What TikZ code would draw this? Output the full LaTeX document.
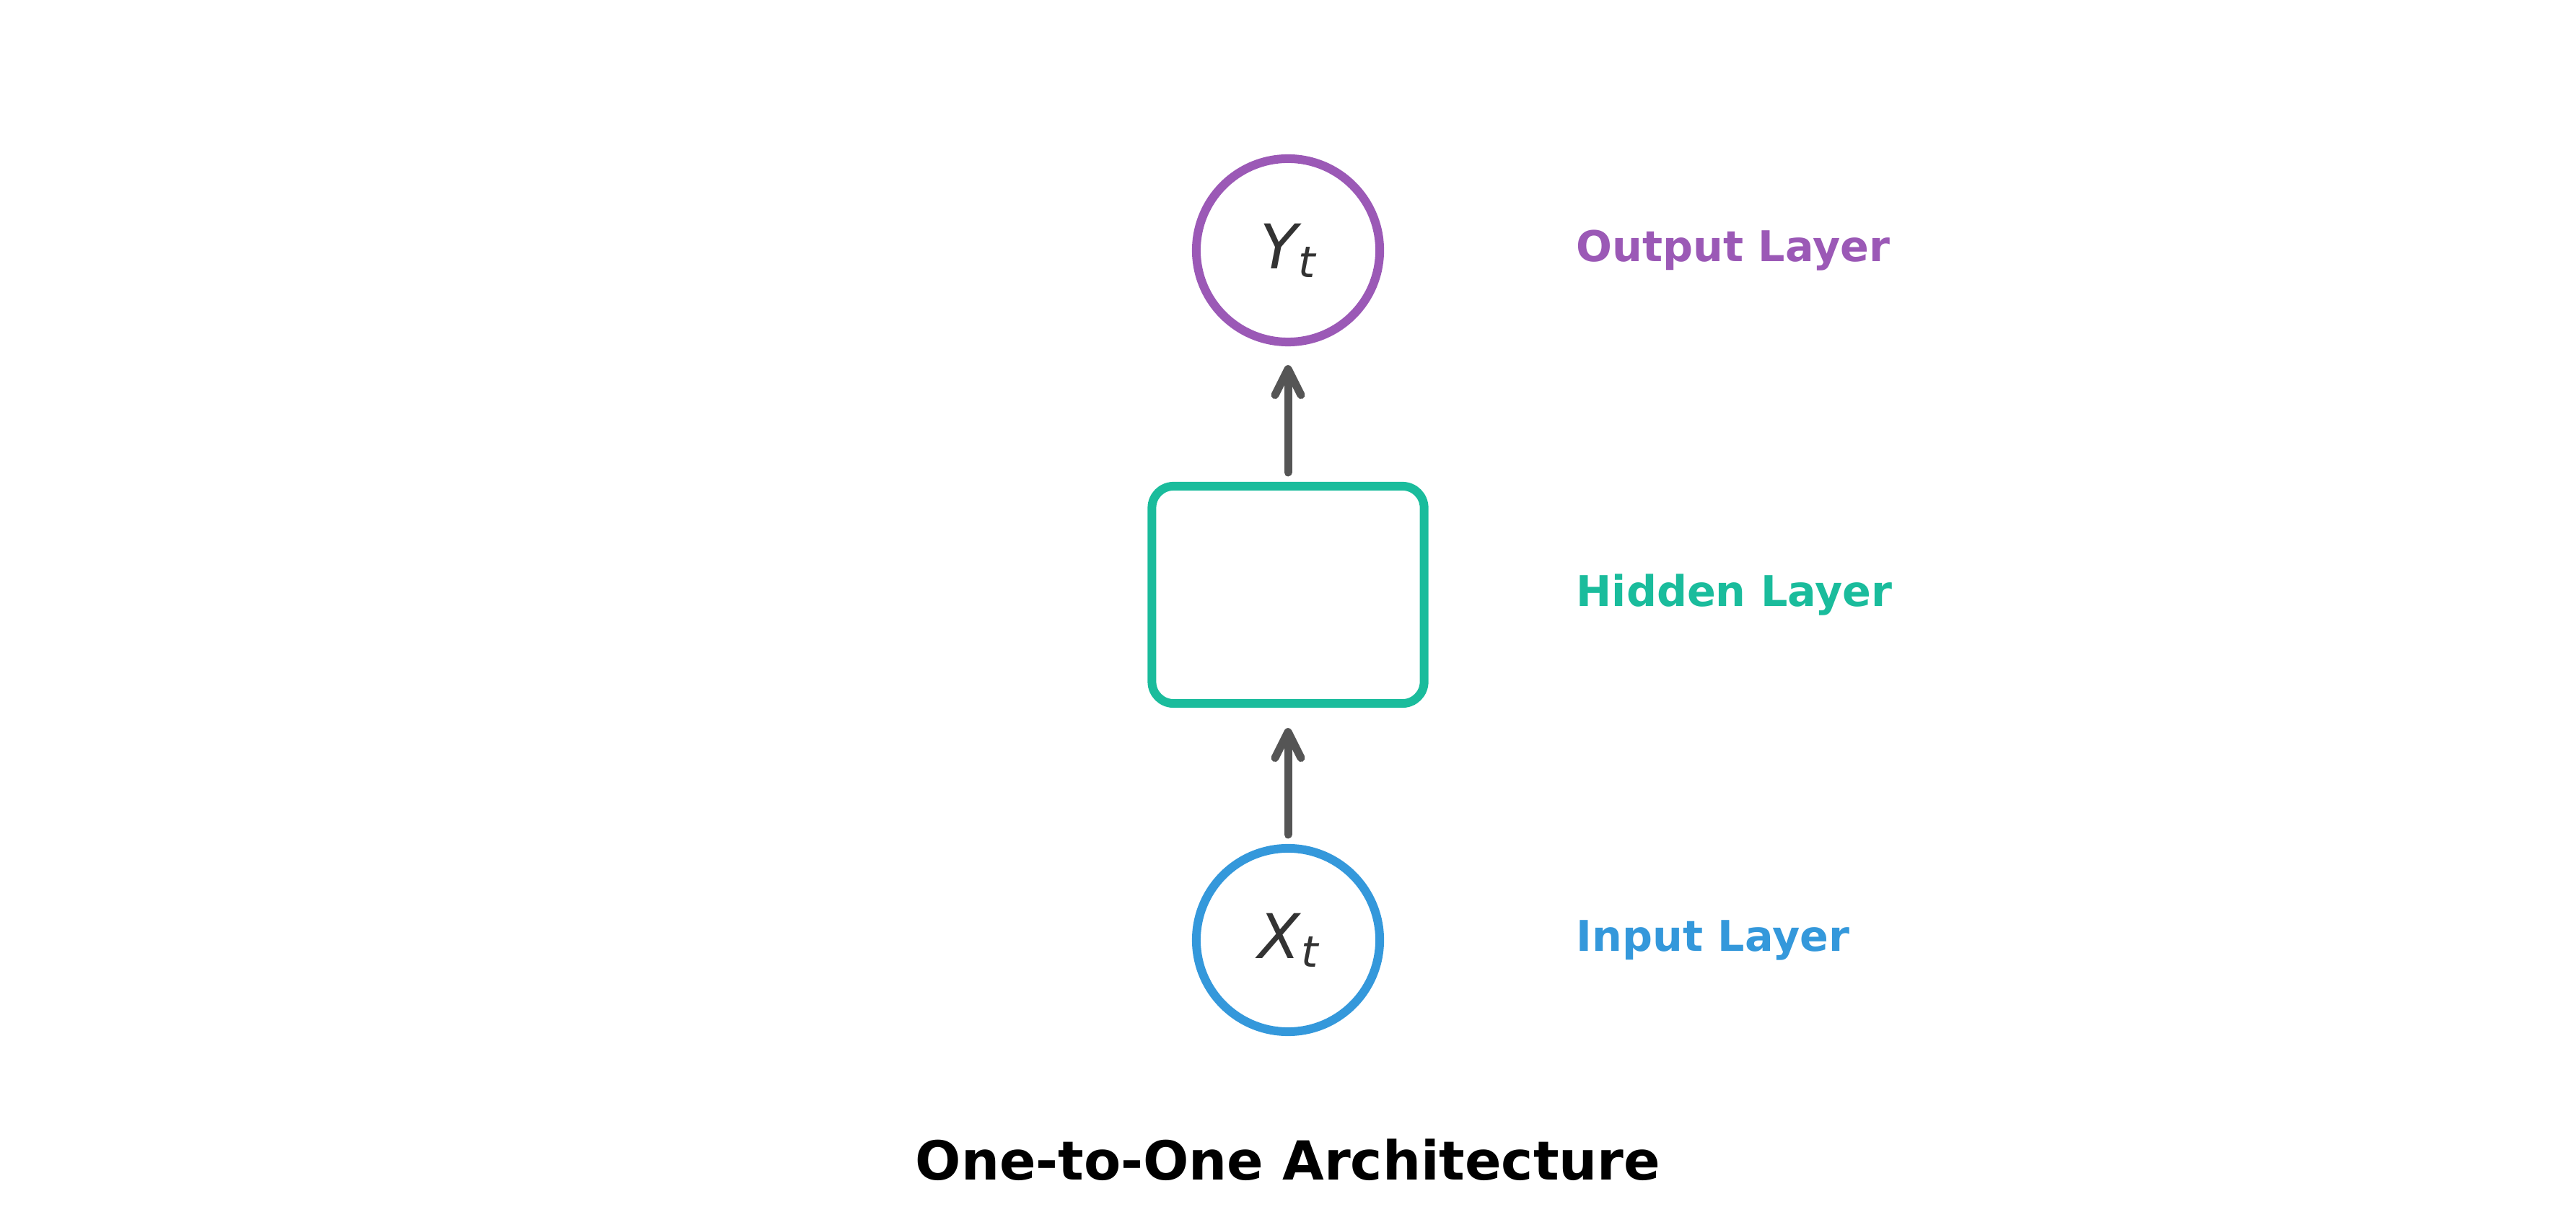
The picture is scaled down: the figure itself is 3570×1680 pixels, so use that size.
\documentclass[tikz,border=0pt]{standalone}
\usepackage{fontspec}
\setmainfont{DejaVu Sans}
\usetikzlibrary{arrows.meta}
\definecolor{outc}{HTML}{9B59B6}
\definecolor{hidc}{HTML}{1ABC9C}
\definecolor{inc}{HTML}{3498DB}
\definecolor{arrc}{HTML}{555555}
\definecolor{symc}{HTML}{333333}
\tikzset{
  layercircle/.style={circle, draw=#1, line width=0.12cm, minimum size=2.54cm, inner sep=0pt, text=symc,
    font=\fontsize{24.3}{26}\selectfont\itshape},
  hiddenbox/.style={rectangle, draw=hidc, line width=0.12cm, rounded corners=0.3cm, minimum width=3.77cm, minimum height=3.01cm, inner sep=0pt},
  layerlabel/.style={anchor=west, inner sep=0pt, text=#1, font=\fontsize{16.7}{20}\selectfont\bfseries},
  flowarrow/.style={draw=arrc, line width=0.11cm, line cap=round,
    -{Straight Barb[length=0.36cm, width=0.36cm, line cap=round, round]}},
  titletext/.style={anchor=base, inner sep=0pt, font=\fontsize{21.2}{24}\selectfont\bfseries}
}
\newcommand{\subsym}[2]{#1\kern0.01em\raisebox{-0.12cm}{\fontsize{17}{19}\selectfont #2}}
\begin{document}
\begin{tikzpicture}[x=0.01cm, y=-0.01cm]
\useasboundingbox (0,0) rectangle (3570,1680);
\node[layercircle=outc] (yt) at (1785,347) {\subsym{Y}{t}};
\node[hiddenbox] (h) at (1785,824.5) {};
\node[layercircle=inc] (xt) at (1785,1303) {\subsym{X}{t}};
\draw[flowarrow, shorten <=0.13cm, shorten >=0.28cm] (xt.north) -- (h.south);
\draw[flowarrow, shorten <=0.13cm, shorten >=0.26cm] (h.north) -- (yt.south);
\node[layerlabel=outc] (lo) at (2184,347) {Output Layer};
\node[layerlabel=hidc] (lh) at (2184,824.5) {Hidden Layer};
\node[layerlabel=inc] (li) at (2184,1303) {Input Layer};
\node[titletext] (title) at (1785,1635) {One-to-One Architecture};
\end{tikzpicture}
\end{document}
